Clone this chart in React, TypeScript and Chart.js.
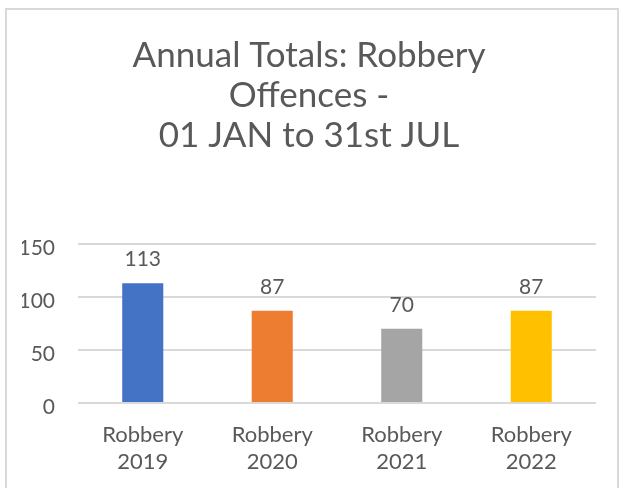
import React, { useEffect, useRef } from "react";
import { Chart, registerables } from "chart.js";

Chart.register(...registerables);

const categories: string[][] = [
  ["Robbery", "2019"],
  ["Robbery", "2020"],
  ["Robbery", "2021"],
  ["Robbery", "2022"],
];
const values: number[] = [113, 87, 70, 87];
const barColors: string[] = ["#4472C4", "#ED7D31", "#A5A5A5", "#FFC000"];
const titleLines: string[] = ["Annual Totals: Robbery", "Offences -", "01 JAN to 31st JUL"];
const yMin = 0;
const yMax = 150;
const yStep = 50;

const FONT = "Lato";
const TEXT = "#595959";

const frameAndLabels = {
  id: "frameAndLabels",
  beforeDraw(chart: any) {
    const ctx = chart.ctx;
    ctx.save();
    ctx.fillStyle = "#ffffff";
    ctx.fillRect(0, 0, chart.width, chart.height);
    ctx.strokeStyle = "#d9d9d9";
    ctx.lineWidth = 2;
    ctx.strokeRect(6, 9, 612, 520);
    ctx.restore();
  },
  afterDatasetsDraw(chart: any) {
    const ctx = chart.ctx;
    const meta = chart.getDatasetMeta(0);
    const data = chart.data.datasets[0].data as number[];
    ctx.save();
    ctx.font = `21px ${FONT}`;
    ctx.fillStyle = TEXT;
    ctx.textAlign = "center";
    ctx.textBaseline = "middle";
    meta.data.forEach((el: any, i: number) => {
      ctx.fillText(String(data[i]), el.x, el.y - 24);
    });
    ctx.restore();
  },
};

export default function App() {
  const ref = useRef<HTMLCanvasElement | null>(null);

  useEffect(() => {
    if (!ref.current) return;
    const chart = new Chart(ref.current, {
      type: "bar",
      data: {
        labels: categories,
        datasets: [
          {
            data: values,
            backgroundColor: barColors,
            barPercentage: 0.317,
            categoryPercentage: 1,
          },
        ],
      },
      options: {
        responsive: false,
        animation: false,
        layout: { padding: { left: 22, right: 25, top: 0, bottom: 0 } },
        plugins: {
          legend: { display: false },
          tooltip: { enabled: false },
          title: {
            display: true,
            text: titleLines,
            color: TEXT,
            font: { family: FONT, size: 35, weight: "normal", lineHeight: "40px" },
            padding: { top: 36, bottom: 88 },
          },
        },
        scales: {
          x: {
            grid: { display: false },
            border: { display: false },
            ticks: {
              color: TEXT,
              font: { family: FONT, size: 22, lineHeight: "27px" },
              padding: 10,
              maxRotation: 0,
              autoSkip: false,
            },
            afterFit(scale: any) {
              scale.height = 85;
            },
          },
          y: {
            min: yMin,
            max: yMax,
            border: { display: false },
            grid: { color: "#d9d9d9", lineWidth: 2, drawTicks: false },
            ticks: {
              stepSize: yStep,
              color: TEXT,
              font: { family: FONT, size: 21 },
              padding: 23,
              labelOffset: 4,
            },
            afterFit(scale: any) {
              scale.width = 56;
            },
          },
        },
      },
      plugins: [frameAndLabels],
    });
    return () => chart.destroy();
  }, []);

  return (
    <div style={{ position: "absolute", left: 0, top: 0, width: 621, height: 488, background: "#fff" }}>
      <canvas ref={ref} width={621} height={488} style={{ width: 621, height: 488, display: "block" }} />
    </div>
  );
}
